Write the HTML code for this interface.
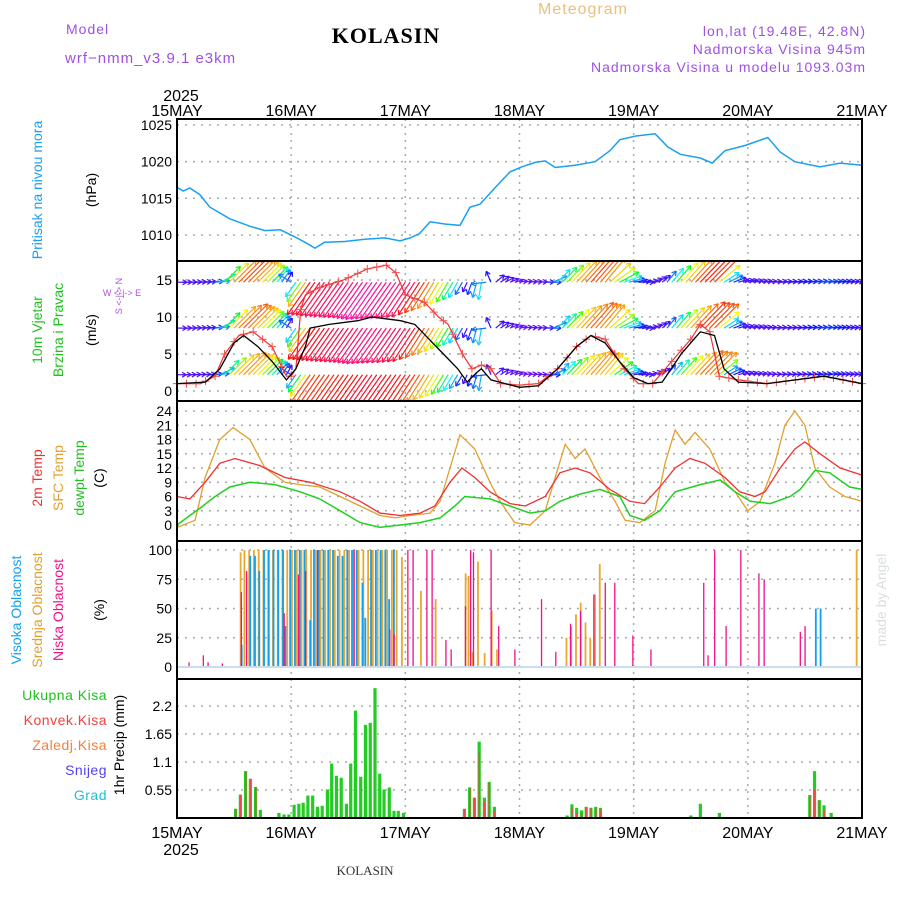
<!DOCTYPE html>
<html><head><meta charset="utf-8"><style>
body{margin:0;background:#fff;}
svg{display:block;}
text{font-family:"Liberation Sans",sans-serif;}
text.serif{font-family:"Liberation Serif",serif;}
</style></head><body>
<svg id="c" width="900" height="900" xmlns="http://www.w3.org/2000/svg"></svg>
<script>
// ---------- DATA ----------
const dayLabels=["15MAY","16MAY","17MAY","18MAY","19MAY","20MAY","21MAY"];
const presTicks=[1010,1015,1020,1025];
const windTicks=[0,5,10,15];
const tempTicks=[0,3,6,9,12,15,18,21,24];
const cloudTicks=[0,25,50,75,100];
const precTicks=[0.55,1.1,1.65,2.2];

const presH=[0,1.3,2.7,4.8,6.9,11.1,15.3,18.5,21.7,24.6,26.9,29,31,35.3,39.5,43.7,46.9,49,51,53.2,56.3,59.5,61.6,63.7,66.8,70,72.5,75.3,77.4,79.5,83.7,87.9,91,93.1,96.5,100.5,103.2,105.8,110,112.5,115.2,119.4,124.2,126.8,129.9,135.2,139.4,144];
const presV=[1016.5,1016,1016.4,1015.5,1013.8,1012.2,1011.2,1010.6,1010.7,1009.8,1009,1008.2,1009,1009.1,1009.4,1009.6,1009.2,1009.6,1010.2,1011.8,1011.5,1011.3,1013.8,1014.2,1016.4,1018.6,1019.3,1019.9,1020.1,1019.2,1019.5,1020,1021.5,1023,1023.5,1023.8,1022,1021,1020.5,1019.8,1021.5,1022.2,1023.3,1021.3,1020,1019.3,1019.8,1019.5];

const windH=[0,6,9,12,14,17,20,23,25,27,28,32,38,41,47,50,53,56,59,61,63,64,66,69,72,76,80,84,87,90,93,96,99,102,106,110,113,115,118,124,130,136,140,144];
const windV=[1,1.2,3,6.5,7.5,6,4,1.5,3,6,8.5,9,9.5,10,9.5,9,7,5,3,1.2,2.5,3,1.5,1,0.5,0.7,3,6,7.5,6.5,4,1.8,1,1.2,5,8,7.5,3,1.2,1,1.5,2,1.5,1];
const gustH=[0,5,8,10,13,16,20,23,24,25,26,27,30,35,40,44,46,48,52,55,57,60,62,64,66,68,72,76,80,84,87,90,94,97,100,104,108,110,112,114,118,124,130,136,144];
const gustV=[1,1,2,5,7.5,8,6,2,2,3,11,13,14,15,16.5,17,16,13,12,10,9,5,3,3.5,3,1,0.8,1,3,6,7.5,7,3,1,1,4,7,9,8,2,1.5,1,1.5,2,1];
const dirH=[0,8,10,20,23,25,45,60,64,67,72,78,80,90,94,98,103,113,118,125,144];
const dirV=[0,5,45,45,60,235,235,240,260,40,10,0,45,50,20,0,50,45,15,5,5];

const sfcH=[0,3.8,5.9,9,11.8,15.3,18.5,22.7,25.9,30,34.3,38.5,42.7,45.8,49,53.2,55.3,57.4,59.5,62.6,65.8,67.9,71,74.2,77.4,79.5,81.6,83.7,85.8,88.9,92.1,94.2,97.3,100.5,102.6,104.7,106.8,108.9,112,115.2,117.3,120,122.6,125.7,127.8,129.9,132,134.1,137.2,140.4,144];
const sfcV=[-0.5,1,10,18,20.5,18,12,9,8.5,8,6,4,2,1.5,2,2.5,5,12,19,16,9,5,0.5,0,3,10,17,14,16,10,5,1,0.5,3,13,20,17,19.5,16,9,7,3,5,13,21,24,21,12,8,6,5];
const t2H=[0,2.7,5.9,9,12.2,17.4,22.7,28,34.3,38.5,42.7,46.9,51.1,54.2,57.4,59.9,62.6,65.8,70,73.2,77.4,80.5,83.7,86.8,91,95.2,98.3,101.5,104.7,107.8,111,115.2,118.3,121.5,123.6,126.8,129.9,132,135.2,139.4,144];
const t2V=[6,5.5,9,13,14,12.5,10,9,7,5,2.5,2,2.5,4,9,12,10,7,4.5,4,6,11,12,11,7.5,5,4.5,8,12,14,13,10,7,6,7,12,16,17.5,15,12,10.5];
const dewH=[0,2.7,4.8,8,11.1,15.3,20.6,25.9,30,34.3,38.5,42.7,46.9,51.1,55.3,58.4,60.5,65.8,70,74.2,77.4,80.5,84.7,88.9,93.1,95.2,98.3,101.5,104.7,110,114.2,117.3,120.5,124.7,128.9,131,134.1,137.2,141.4,144];
const dewV=[0,2,3.5,6,8,9,8.5,7,5.5,3,0.5,-0.5,0,0.5,1.5,4,6,5.5,4,2.5,3,5,6.5,7.5,6,2,1,3,7,8.5,9.5,7,5,4.5,6,7.5,11.5,11,8,7.5];

const midH=[13.5,14.3,15.3,16.3,17.3,18.3,19.3,20.3,21.3,22.3,23.3,24.3,25.3,26.3,27.3,28.3,29.3,30.3,31.3,32.3,33.3,34.3,35.3,36.3,37.3,38.3,39.3,40.3,41.3,42.3,43.3,44.3,45.3,46.3,47.4,51.4,54.5,60.8,61.4,62.3,63.4,64.8,66.3,67.4,82,83,84,85,86,87,88,89,143];
const midV=[98,100,100,100,100,100,100,100,100,100,100,100,100,100,100,100,100,100,100,100,100,100,100,100,100,100,100,100,100,100,100,100,100,100,94,65,58,80,78,13,90,12,48,15,25,35,45,55,38,25,62,88,100];
const highH=[13.3,15.1,16.1,17,18,19,20,21,22,22.5,23.5,24.5,25.5,26.5,27.7,28.5,29.5,30.5,31.5,32.5,33.5,34.5,35.5,36.5,37.5,38.7,39.3,40.5,41.5,42.5,43.5,44.3,45.3,134,135];
const highV=[19,95,95,82,100,100,100,100,100,35,100,100,100,100,40,100,100,100,100,100,95,95,100,100,100,72,42,100,100,100,100,58,100,50,50];
const lowH=[2.5,5.5,6.5,9.5,13.5,14.6,22.5,25.5,27,29.5,37.2,44.7,45.6,48.5,49.6,52.5,53.6,56.5,57.6,60.6,61.7,62.3,66,67.6,71,76.6,79.6,82.7,84.8,87.6,90,92,95.8,99.6,110.7,111.6,113,115.4,118.5,122.3,123.4,131,132,144];
const lowV=[4,10,4,3,64,82,46,79,82,100,100,32,28,100,100,100,100,23,15,52,100,98,100,35,15,58,13,37,48,62,72,72,27,15,72,10,100,35,100,80,75,30,35,35];

const precH=[11.6,12.3,13.3,14.4,15.4,16.5,17.5,21.4,22.5,23.5,24.6,25.6,26.5,27.5,28.5,29.5,30.5,31.6,32.5,33.5,34.5,35.6,36.5,37.5,38.6,39.6,40.6,41.6,42.6,43.5,44.6,45.6,46.5,47.6,60.4,61.5,62.5,63.5,64.6,65.6,66.7,82,83,84,85,86,87,88,89,108,110,114,133,134,135,136,137.5];
const precTot=[0.01,0.18,0.46,0.92,0.77,0.61,0.16,0.1,0.07,0.07,0.26,0.28,0.3,0.44,0.44,0.22,0.24,0.56,1.07,0.83,0.79,0.28,1.07,2.11,0.81,1.83,1.87,2.55,0.87,0.56,0.6,0.14,0.14,0.1,0.18,0.6,0.4,1.5,0.4,0.71,0.22,0.05,0.27,0.2,0.15,0.22,0.2,0.22,0.2,0.05,0.28,0.1,0.45,0.92,0.35,0.25,0.1];
const precConv=[0.01,0.18,0.46,0.92,0.77,0.61,0,0,0,0,0,0,0,0,0,0,0,0,0,0,0,0,0,0,0,0,0,0,0,0,0,0,0,0,0.18,0.6,0.4,1.28,0.32,0.69,0.14,0,0.2,0.1,0.1,0.2,0.2,0.2,0.15,0,0,0,0.45,0.55,0.35,0.15,0];

// ---------- AXES ----------
const X0=177,X1=862;
const xs=h=>X0+h*(X1-X0)/144;
const yP=p=>125+(1025-p)*7.33;
const yW=s=>391-s*7.4;
const yT=t=>525-t*4.75;
const yC=c=>667-c*1.17;
const yR=v=>818-v*50.9;
const panels=[[119,261],[261,401],[401,541],[541,679],[679,818]];

const svg=document.getElementById('c');
const NS='http://www.w3.org/2000/svg';
function el(tag,attrs,parent){const e=document.createElementNS(NS,tag);for(const k in attrs)e.setAttribute(k,attrs[k]);(parent||svg).appendChild(e);return e;}
function txt(s,x,y,attrs){const e=el('text',Object.assign({x:x,y:y},attrs||{}));e.textContent=s;return e;}
function interp(H,V,h){if(h<=H[0])return V[0];for(let i=1;i<H.length;i++){if(h<=H[i]){const f=(h-H[i-1])/(H[i]-H[i-1]);return V[i-1]+f*(V[i]-V[i-1]);}}return V[V.length-1];}

// grid
const grid=el('g',{});


for(let d=1;d<6;d++){const x=xs(d*24);el('line',{x1:x,x2:x,y1:119,y2:818,stroke:'#aaa','stroke-dasharray':'2,5','stroke-width':1.5},grid);}
function hgrid(ticks,fy,fmt,nm){ticks.forEach(t=>{const y=fy(t);el('line',{x1:X0,x2:X1,y1:y,y2:y,stroke:'#aaa','stroke-dasharray':'2,6','stroke-width':1.5},grid);
 const l=txt(fmt(t),172,y+5,{'text-anchor':'end','font-size':14});});}
hgrid(presTicks,yP,t=>t,'pressure');
hgrid(windTicks,yW,t=>t,'wind');
hgrid(tempTicks,yT,t=>t,'temp');
hgrid(cloudTicks,yC,t=>t,'cloud');
hgrid(precTicks,yR,t=>t,'precip');

// day labels
dayLabels.forEach((d,i)=>{const x=xs(i*24);
 const a=txt(d,x,116,{'text-anchor':'middle','font-size':16});
 const b=txt(d,x,838,{'text-anchor':'middle','font-size':16});});
const ty=txt('2025',181,101,{'text-anchor':'middle','font-size':16});


const by2=txt('2025',181,855,{'text-anchor':'middle','font-size':16});



// pressure line
function line(H,V,fy,col,nm,w){let d='';H.forEach((h,i)=>{d+=(i?'L':'M')+xs(h).toFixed(1)+','+fy(V[i]).toFixed(1);});
 const p=el('path',{d:d,fill:'none',stroke:col,'stroke-width':w||1.3});return p;}
line(presH,presV,yP,'#1aa0f0','pressure-line',1.5);

// wind arrows
function speedHue(s){const S=[0,1.5,2.5,3.5,4.5,5.5,7,9,11],Hh=[270,250,210,180,120,60,35,0,-40];return (interp(S,Hh,s)+360)%360;}
const windG=el('g',{});


const levels=[2.2,8.5,14.7];
levels.forEach((lv,li)=>{
 const by=yW(lv);
 for(let h=0;h<=144;h+=1){
  const s=interp(windH,windV,h)*(li==0?0.95:li==1?1.05:1.1);
  const a=interp(dirH,dirV,h)*Math.PI/180;
  const L=6+s*3.6;
  const x=xs(h),x2=x+L*Math.cos(a),y2=by-L*Math.sin(a);
  const col='hsl('+speedHue(s)+',95%,52%)';
  el('line',{x1:x,y1:by,x2:x2,y2:y2,stroke:col,'stroke-width':1.2},windG);
  const ha=Math.atan2(by-y2,x2-x);
  [2.6,-2.6].forEach(o=>{el('line',{x1:x2,y1:y2,x2:x2-5*Math.cos(ha+o*0.2),y2:y2+5*Math.sin(ha+o*0.2),stroke:col,'stroke-width':1.2},windG);});
 }
});
const clip=el('clipPath',{id:'wc'});el('rect',{x:X0,y:261,width:X1-X0,height:140},clip);windG.setAttribute('clip-path','url(#wc)');
// gust
line(gustH,gustV,yW,'#f03030','gust-line',1.2);
for(let h=0;h<=144;h+=2){const x=xs(h),y=yW(interp(gustH,gustV,h));const p=el('path',{d:`M${x-4},${y}h8M${x},${y-4}v8`,stroke:'#f05050','stroke-width':1});}
line(windH,windV,yW,'#000','wind-speed-line',1.3);

// temps
line(sfcH,sfcV,yT,'#e0a030','sfc-temp-line',1.3);
line(t2H,t2V,yT,'#f03030','2m-temp-line',1.3);
line(dewH,dewV,yT,'#20d020','dewpt-line',1.5);

// clouds
function bars(H,V,fy,col,off,w,nm){H.forEach((h,i)=>{const x=xs(h)+off,y=fy(V[i]);const r=el('rect',{x:x,y:y,width:w,height:Math.max(0,fy(0)-y),fill:col});});}
bars(midH,midV,yC,'#e8a830',-1.5,1.8,'mid-cloud-bar');
bars(highH,highV,yC,'#10a0f0',0.5,1.8,'high-cloud-bar');
bars(lowH,lowV,yC,'#f0108a',-0.5,1.3,'low-cloud-bar');
el('line',{x1:X0,x2:X1,y1:667,y2:667,stroke:'#cde','stroke-width':2});

// precip
bars(precH,precTot,yR,'#22cc22',-1.5,3.2,'total-precip-bar');
bars(precH,precConv,yR,'#f04848',-0.5,1.4,'conv-precip-bar');

// frames
panels.forEach((p,i)=>{const r=el('rect',{x:X0,y:p[0],width:X1-X0,height:p[1]-p[0],fill:'none',stroke:'#000','stroke-width':2});});

// rotated labels
function vlab(s,x,y,col,nm,fs){const t=txt(s,x,y,{fill:col,'font-size':fs||14,'text-anchor':'middle',transform:`rotate(-90 ${x} ${y})`});}
vlab('Pritisak na nivou mora',42,190,'#1aa0f0','pressure-title');
vlab('(hPa)',96,190,'#000','pressure-unit');
vlab('10m Vjetar',42,330,'#20c020','wind-title-1');
vlab('Brzina i Pravac',63,330,'#20c020','wind-title-2');
vlab('(m/s)',96,330,'#000','wind-unit');
vlab('2m Temp',42,478,'#f03030','temp-2m-title');
vlab('SFC Temp',63,478,'#e0a030','temp-sfc-title');
vlab('dewpt Temp',84,478,'#20c020','temp-dewpt-title');
vlab('(C)',104,478,'#000','temp-unit');
vlab('Visoka Oblacnost',21,610,'#10a0f0','high-cloud-title');
vlab('Srednja Oblacnost',42,610,'#e0a030','mid-cloud-title');
vlab('Niska Oblacnost',63,610,'#f0108a','low-cloud-title');
vlab('(%)',104,610,'#000','cloud-unit');
vlab('1hr Precip (mm)',124,745,'#000','precip-unit');
vlab('made by Angel',886,600,'#d8e0d8','credit',14);
// compass
const cg=el('g',{});


txt('W <-|-> E',122,296,{'font-size':9,'text-anchor':'middle',fill:'#b050e0'},cg);
txt('S <-|-> N',122,296,{transform:'rotate(-90 122 296)','font-size':9,'text-anchor':'middle',fill:'#b050e0'},cg);

// precip legend
[['Ukupna Kisa','#20c020',700],['Konvek.Kisa','#f04040',725],['Zaledj.Kisa','#f08040',750],['Snijeg','#5040f0',775],['Grad','#20c0d0',800]].forEach(a=>{
 const t=txt(a[0],107,a[2],{fill:a[1],'font-size':14,'text-anchor':'end','letter-spacing':'0.5'});});

// header
function htxt(s,x,y,col,anc,nm,extra,cls){const t=txt(s,x,y,Object.assign({fill:col,'font-size':14,'text-anchor':anc,'letter-spacing':'1'},extra||{}));if(cls)t.setAttribute('class',cls);}
htxt('Model',66,34,'#a050e0','start','model-label');
htxt('wrf\u2212nmm_v3.9.1  e3km',65,63,'#a050e0','start','model-name',{'font-size':15});
htxt('KOLASIN',386,43,'#000','middle','station-title',{'font-size':22,'font-weight':'bold'},'serif');
htxt('Meteogram',583,14,'#e8c080','middle','meteogram-title',{'font-size':16});
htxt('lon,lat (19.48E, 42.8N)',866,36,'#a050e0','end','lonlat');
htxt('Nadmorska Visina 945m',866,54,'#a050e0','end','elevation');
htxt('Nadmorska Visina u modelu 1093.03m',866,72,'#a050e0','end','model-elevation');
htxt('KOLASIN',365,875,'#333','middle','footer-station',{'font-size':13,'letter-spacing':'0'},'serif');
</script>
</body></html>
